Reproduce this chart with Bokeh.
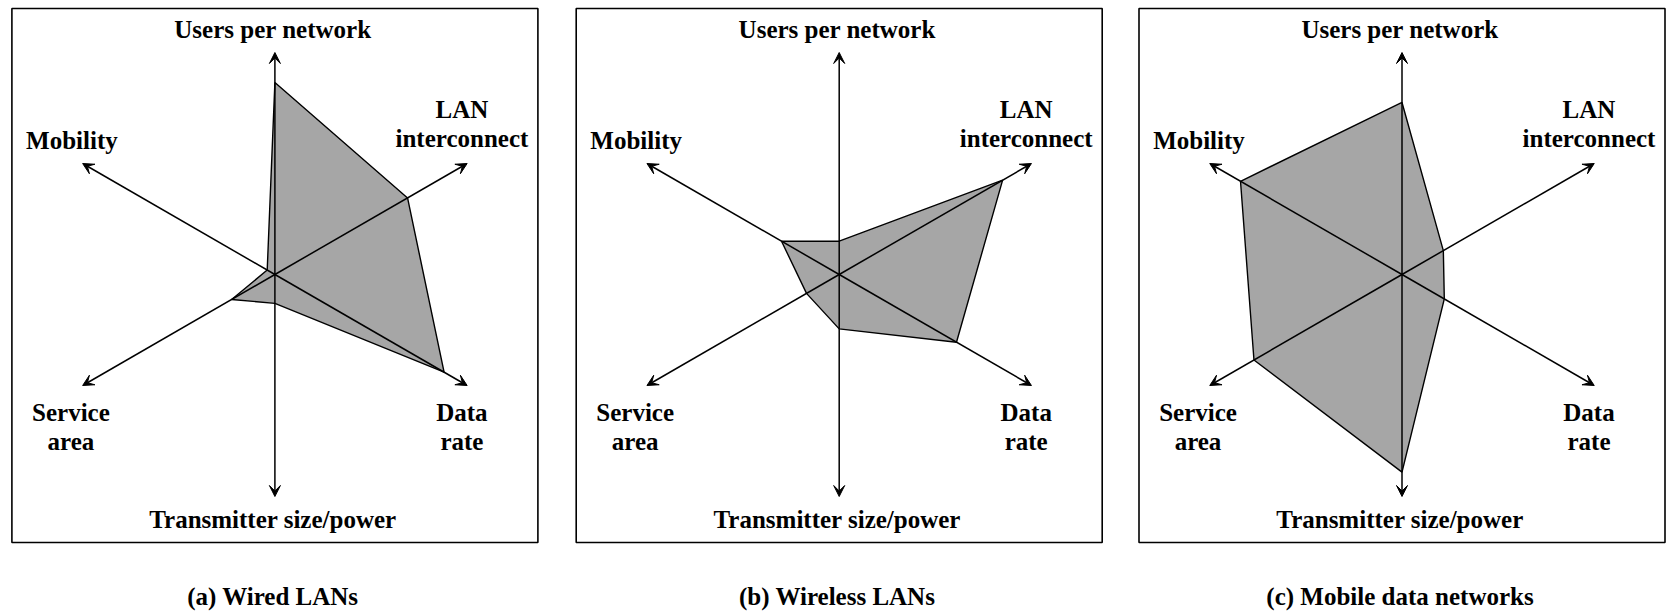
import numpy as np
from bokeh.plotting import figure
from bokeh.models import Arrow, VeeHead, Range1d
from bokeh.layouts import row
from bokeh.embed import file_html
from bokeh.resources import INLINE
from bokeh.core.properties import value

# ---------------- data ----------------
axis_labels = ["Users per network", "LAN\ninterconnect", "Data\nrate",
               "Transmitter size/power", "Service\narea", "Mobility"]
axis_angles_deg = [90, 30, -30, -90, 210, 150]

wired_lans = [0.865, 0.69, 0.88, 0.13, 0.225, 0.04]
wireless_lans = [0.15, 0.85, 0.61, 0.245, 0.17, 0.30]
mobile_data_networks = [0.775, 0.215, 0.22, 0.89, 0.77, 0.84]

captions = ["(a) Wired LANs", "(b) Wireless LANs", "(c) Mobile data networks"]

# ---------------- layout ----------------
R = 222.0                     # axis length in px
CANVAS_TOP, CANVAS_BOTTOM = 0, 611
CY = 274
fig_bounds = [(0, 557), (557, 1120), (1120, 1667)]
centers_x = [274.4, 838.7, 1401.5]
BOX_HALF_W = 263
BOX_TOP, BOX_BOTTOM = 266, -268
TEXT_SHIFT = 7
# label anchor (dx, baseline dy of first line) per axis
label_anchor = [(-2, 238), (187, 158), (187, -145), (-2, -252), (-204, -145), (-203, 127)]
LINE_H = 29
CAPTION_DY = -329
FONT = value("Liberation Serif")
FSIZE = "25px"

series = [wired_lans, wireless_lans, mobile_data_networks]
angles = np.radians(axis_angles_deg)


def make_panel(vals, caption, bounds, cx):
    x0, x1 = bounds
    p = figure(width=x1 - x0, height=CANVAS_BOTTOM - CANVAS_TOP,
               x_range=Range1d(x0 - cx, x1 - cx),
               y_range=Range1d(CY - CANVAS_BOTTOM, CY - CANVAS_TOP),
               x_axis_type=None, y_axis_type=None,
               output_backend="svg", toolbar_location=None,
               min_border=0, outline_line_color=None,
               background_fill_color="white", border_fill_color="white")
    p.grid.visible = False

    # panel box
    p.quad(left=-BOX_HALF_W, right=BOX_HALF_W, top=BOX_TOP, bottom=BOX_BOTTOM,
           fill_color=None, line_color="black", line_width=1.6)

    # data polygon
    v = np.array(vals)
    xs = v * R * np.cos(angles)
    ys = v * R * np.sin(angles)
    p.patch(list(xs), list(ys), fill_color="#a6a6a6", fill_alpha=1.0,
            line_color="black", line_width=1.4)

    # axes with arrow heads
    for a in angles:
        p.add_layout(Arrow(end=VeeHead(size=11, fill_color="black", line_color="black",
                                       line_width=1),
                           x_start=0, y_start=0,
                           x_end=R * np.cos(a), y_end=R * np.sin(a),
                           line_color="black", line_width=1.5))

    # axis labels
    tx, ty, tt = [], [], []
    for lab, (dx, dy) in zip(axis_labels, label_anchor):
        for i, line in enumerate(lab.split("\n")):
            tx.append(dx)
            ty.append(dy + TEXT_SHIFT - i * LINE_H)
            tt.append(line)
    p.text(x=tx, y=ty, text=tt, text_font=FONT, text_font_style="bold",
           text_font_size=FSIZE, text_align="center", text_baseline="alphabetic",
           text_color="black")

    # caption
    p.text(x=[-2], y=[CAPTION_DY + TEXT_SHIFT], text=[caption], text_font=FONT,
           text_font_style="bold", text_font_size=FSIZE, text_align="center",
           text_baseline="alphabetic", text_color="black")
    return p


panels = [make_panel(s, c, b, cx) for s, c, b, cx in zip(series, captions, fig_bounds, centers_x)]
layout = row(*panels)

open("out.html", "w").write(file_html(layout, INLINE))
